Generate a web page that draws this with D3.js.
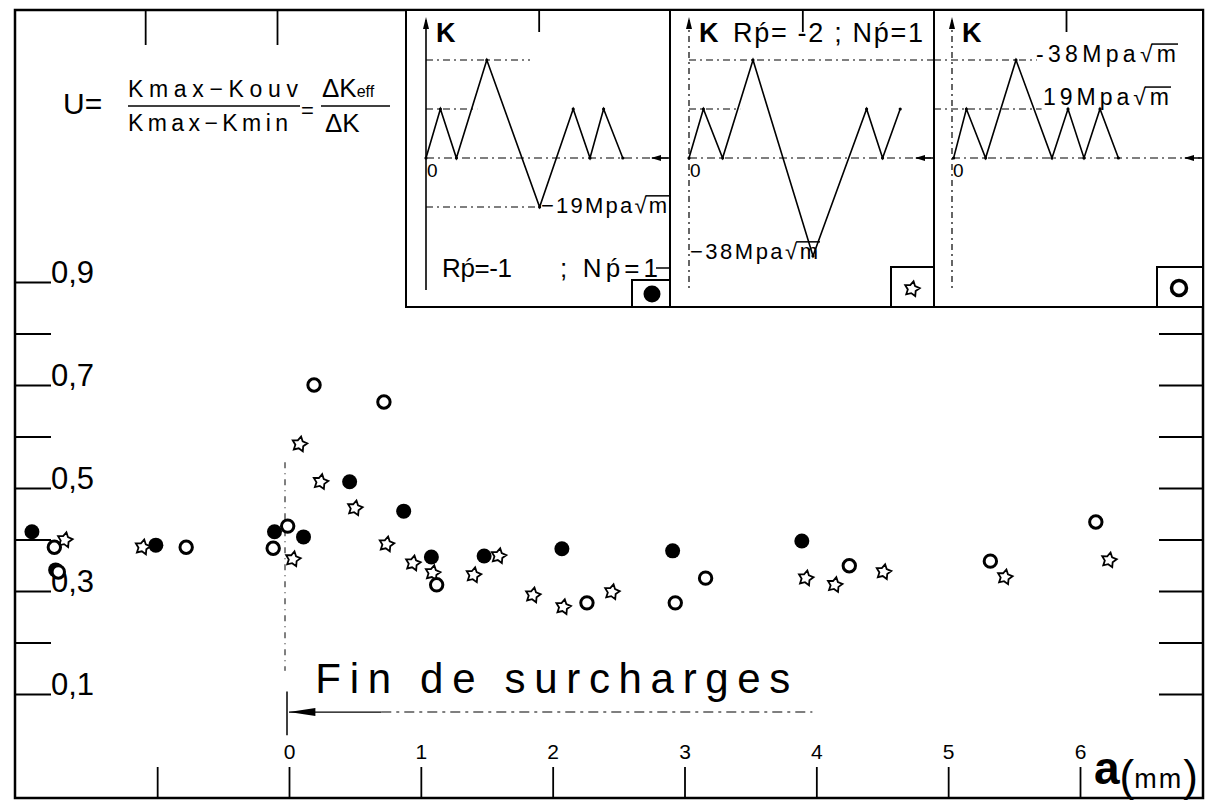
<!DOCTYPE html>
<html lang="fr">
<head>
<meta charset="UTF-8">
<title>U en fonction de a</title>
<script src="https://d3js.org/d3.v7.min.js"></script>
<style>
  body { margin: 0; background: #fff; }
  svg { display: block; }
  text { font-family: "Liberation Sans", "DejaVu Sans", sans-serif; fill: #000; }
</style>
</head>
<body>
<div id="chart"></div>
<script>
// U = Kmax-Kouv / Kmax-Kmin against crack length a (mm), one pair of arrays per sequence
const filledA = [-1.95, -1.77, -1.01, -0.11, 0.11, 0.46, 0.87, 1.08, 1.48, 2.07, 2.91, 3.89];
const filledU = [0.415, 0.341, 0.389, 0.415, 0.405, 0.512, 0.455, 0.366, 0.368, 0.382, 0.378, 0.397];

const starA = [-1.70, -1.11, 0.03, 0.08, 0.24, 0.50, 0.74, 0.94, 1.09, 1.40, 1.59, 1.85, 2.08, 2.45, 3.92, 4.14, 4.51, 5.43, 6.22];
const starU = [0.399, 0.385, 0.362, 0.585, 0.512, 0.461, 0.391, 0.354, 0.335, 0.331, 0.368, 0.292, 0.269, 0.298, 0.325, 0.312, 0.337, 0.327, 0.360];

const openA = [-1.78, -1.75, -0.78, -0.01, -0.12, 0.19, 0.72, 1.12, 2.26, 2.93, 3.16, 4.25, 5.32, 6.12];
const openU = [0.385, 0.337, 0.385, 0.426, 0.383, 0.700, 0.667, 0.312, 0.277, 0.277, 0.325, 0.349, 0.358, 0.434];

const xTicks = [-1, 0, 1, 2, 3, 4, 5, 6];
const yTicks = [0.1, 0.2, 0.3, 0.4, 0.5, 0.6, 0.7, 0.8, 0.9];
const yLabelled = [0.1, 0.3, 0.5, 0.7, 0.9];

// loading sequences in the insets: time step and K (MPa.sqrt(m))
const wave1T = [0, 0.9, 1.9, 3.8, 7.1, 9.2, 10.25, 11.1, 12.3];
const wave1K = [0, 19, 0, 38, -19, 19, 0, 19, 0];
const wave2T = [0, 0.9, 2.1, 4, 7.75, 11.1, 12.1, 13.2];
const wave2K = [0, 19, 0, 38, -38, 19, 0, 19];
const wave3T = [0.1, 0.9, 2.1, 4, 6.25, 7.25, 8.25, 9.25, 10.4];
const wave3K = [0, 19, 0, 38, 0, 19, 0, 19, 0];

const width = 1213, height = 805;
const frame = {left: 15, top: 10, right: 1203, bottom: 798};

const svg = d3.select("#chart").append("svg")
    .attr("width", width)
    .attr("height", height);

svg.append("rect").attr("width", width).attr("height", height).attr("fill", "#fff");

const x = d3.scaleLinear().domain([0, 6]).range([289, 1080]);
const y = d3.scaleLinear().domain([0.1, 0.9]).range([694, 282]);
const kY = d3.scaleLinear().domain([0, 38]).range([158, 60]);

// frame
svg.append("rect")
    .attr("x", frame.left).attr("y", frame.top)
    .attr("width", frame.right - frame.left).attr("height", frame.bottom - frame.top)
    .attr("fill", "none").attr("stroke", "#000").attr("stroke-width", 2.5);

// ---------- insets ----------
const insetBottom = 307;

function sqrtLabel(g, lx, ly, str, size, len) {
    const t = g.append("text")
        .attr("x", lx).attr("y", ly)
        .attr("font-size", size)
        .attr("textLength", len).attr("lengthAdjust", "spacing")
        .text(str);
    const n = str.length;
    const root = t.node().getExtentOfChar(n - 2);
    const last = t.node().getExtentOfChar(n - 1);
    g.append("line")
        .attr("x1", root.x + root.width - 1).attr("x2", last.x + last.width + 2)
        .attr("y1", ly - size * 0.78).attr("y2", ly - size * 0.78)
        .attr("stroke", "#000").attr("stroke-width", 1.5);
}

function drawInset(o) {
    const g = svg.append("g");
    g.append("rect")
        .attr("x", o.x0).attr("y", frame.top)
        .attr("width", o.x1 - o.x0).attr("height", insetBottom - frame.top)
        .attr("fill", "#fff").attr("stroke", "#000").attr("stroke-width", 2);

    const t = d3.scaleLinear().domain([0, 1]).range([o.axis, o.axis + 16]);

    // reference levels
    o.levels.forEach(([k, from, to]) => {
        g.append("line")
            .attr("x1", from === null ? o.x0 : t(from))
            .attr("x2", to === null ? o.x1 : t(to))
            .attr("y1", kY(k)).attr("y2", kY(k))
            .attr("stroke", "#000").attr("stroke-width", 1.2)
            .attr("stroke-dasharray", "7,4,2,4");
    });

    // zero line and arrow
    g.append("line")
        .attr("x1", o.axis).attr("x2", o.x1)
        .attr("y1", kY(0)).attr("y2", kY(0))
        .attr("stroke", "#000").attr("stroke-width", 1.2)
        .attr("stroke-dasharray", "8,4,2,4");
    g.append("line")
        .attr("x1", o.x1 - 18).attr("x2", o.x1)
        .attr("y1", kY(0)).attr("y2", kY(0))
        .attr("stroke", "#000").attr("stroke-width", 1.5);
    g.append("path")
        .attr("d", `M${o.x1 - 19},${kY(0)}L${o.x1 - 9},${kY(0) - 3}L${o.x1 - 9},${kY(0) + 3}Z`)
        .attr("fill", "#000");

    // K axis
    g.append("line")
        .attr("x1", o.axis).attr("x2", o.axis)
        .attr("y1", 20).attr("y2", 290)
        .attr("stroke", "#000").attr("stroke-width", o.axisDash ? 1.2 : 1.6)
        .attr("stroke-dasharray", o.axisDash ? "6,4,2,4" : null);
    g.append("path")
        .attr("d", `M${o.axis},${17}L${o.axis - 3},${29}L${o.axis + 3},${29}Z`)
        .attr("fill", "#000");

    // wave
    const line = d3.line().x((d, i) => t(o.t[i])).y(d => kY(d));
    g.append("path")
        .attr("d", line(o.k))
        .attr("fill", "none").attr("stroke", "#000").attr("stroke-width", 1.6);
    g.selectAll("circle.v").data(o.k).enter().append("circle")
        .attr("cx", (d, i) => t(o.t[i])).attr("cy", d => kY(d)).attr("r", 1.6);

    g.append("text").attr("x", o.axis + 10).attr("y", 42)
        .attr("font-size", 27).attr("font-weight", 600).text("K");
    g.append("text").attr("x", o.axis + 1).attr("y", 177)
        .attr("font-size", 19).text("0");

    // legend corner box
    g.append("rect")
        .attr("x", o.box[0]).attr("y", o.box[1])
        .attr("width", o.x1 - o.box[0]).attr("height", insetBottom - o.box[1])
        .attr("fill", "#fff").attr("stroke", "#000").attr("stroke-width", 2);
    return g;
}

const g1 = drawInset({
    x0: 406, x1: 670, axis: 426, t: wave1T, k: wave1K, axisDash: false,
    levels: [[38, 0, 6.5], [19, 0, 3.2], [-19, 0, 7.1]],
    box: [632, 280]
});
sqrtLabel(g1, 541, 213, "−19Mpa√m", 22, 126);
g1.append("text").attr("x", 442).attr("y", 277).attr("font-size", 26)
    .attr("textLength", 70).attr("lengthAdjust", "spacing").text("Rṕ=-1");
g1.append("text").attr("x", 560).attr("y", 277).attr("font-size", 26)
    .attr("textLength", 98).attr("lengthAdjust", "spacing").text(";  Nṕ=1");
g1.append("line").attr("x1", 656).attr("x2", 670).attr("y1", 268).attr("y2", 268)
    .attr("stroke", "#000").attr("stroke-width", 1.5);
g1.append("circle").attr("cx", 652).attr("cy", 294).attr("r", 8.5).attr("fill", "#000");

const g2 = drawInset({
    x0: 670, x1: 934, axis: 689, t: wave2T, k: wave2K, axisDash: true,
    levels: [[38, 0, null], [19, 0, 3.2]],
    box: [891, 267]
});
g2.append("text").attr("x", 733).attr("y", 42).attr("font-size", 27)
    .attr("textLength", 190).attr("lengthAdjust", "spacing").text("Rṕ= -2 ;  Nṕ=1");
sqrtLabel(g2, 690, 259, "−38Mpa√m", 22, 128);

const g3 = drawInset({
    x0: 934, x1: 1203, axis: 952, t: wave3T, k: wave3K, axisDash: true,
    levels: [[38, null, 5.3], [19, null, 5.6]],
    box: [1157, 267]
});
sqrtLabel(g3, 1036, 62, "-38Mpa√m", 23, 140);
sqrtLabel(g3, 1043, 105, "19Mpa√m", 23, 126);

// ---------- axes ----------
const bottomAxis = svg.append("g")
    .attr("transform", `translate(0,${frame.bottom})`)
    .call(d3.axisTop(x).tickValues(xTicks).tickSize(31).tickPadding(8)
        .tickFormat(d => d < 0 ? "" : d));
bottomAxis.select(".domain").remove();
bottomAxis.selectAll("line").attr("stroke-width", 1.8);
bottomAxis.selectAll("text").attr("font-size", 21)
    .attr("font-family", "'Liberation Sans Narrow', 'DejaVu Sans Condensed', sans-serif");

const topAxisA = svg.append("g")
    .attr("transform", `translate(-12,${frame.top})`)
    .call(d3.axisBottom(x).tickValues([-1, 0]).tickSize(35).tickFormat(""));
const topAxisB = svg.append("g")
    .attr("transform", `translate(-14,${frame.top})`)
    .call(d3.axisBottom(x).tickValues([2, 4, 6]).tickSize(22).tickFormat(""));
[topAxisA, topAxisB].forEach(a => {
    a.select(".domain").remove();
    a.selectAll("line").attr("stroke-width", 1.8);
});

const fmt = d3.format(".1f");
const leftAxis = svg.append("g")
    .attr("transform", `translate(${frame.left},0)`)
    .call(d3.axisRight(y).tickValues(yTicks).tickSize(36).tickPadding(0)
        .tickFormat(d => yLabelled.includes(d) ? fmt(d).replace(".", ",") : ""));
leftAxis.select(".domain").remove();
leftAxis.selectAll("line").attr("stroke-width", 1.8);
leftAxis.selectAll("text").attr("font-size", 31).attr("dy", "0")
    .attr("font-family", "'DejaVu Sans', sans-serif").attr("font-weight", 300);

const rightAxis = svg.append("g")
    .attr("transform", `translate(${frame.right},0)`)
    .call(d3.axisLeft(y).tickValues(yTicks.filter(v => v < 0.85)).tickSize(44).tickFormat(""));
rightAxis.select(".domain").remove();
rightAxis.selectAll("line").attr("stroke-width", 1.8);

// axis title a(mm)
const aTitle = svg.append("text").attr("x", 1094).attr("y", 784);
aTitle.append("tspan").attr("font-size", 46).attr("font-weight", "bold").text("a");
aTitle.append("tspan").attr("font-size", 44).attr("dy", 7).attr("font-weight", 300).text("(");
aTitle.append("tspan").attr("font-size", 27).attr("dy", -3).attr("letter-spacing", 2).text("mm");
aTitle.append("tspan").attr("font-size", 44).attr("dy", 3).attr("font-weight", 300).text(")");

// ---------- end of overloads marker ----------
svg.append("line")
    .attr("x1", x(0) - 4).attr("x2", x(0) - 4)
    .attr("y1", y(0.55)).attr("y2", y(0.145))
    .attr("stroke", "#000").attr("stroke-width", 1).attr("stroke-dasharray", "6,5,1,5");
svg.append("line")
    .attr("x1", x(0) - 2).attr("x2", x(0) - 2)
    .attr("y1", y(0.105)).attr("y2", y(0.02))
    .attr("stroke", "#000").attr("stroke-width", 1.5);
svg.append("line")
    .attr("x1", x(0)).attr("x2", x(0.7))
    .attr("y1", y(0.065)).attr("y2", y(0.065))
    .attr("stroke", "#000").attr("stroke-width", 1.3);
svg.append("line")
    .attr("x1", x(0.7)).attr("x2", x(3.97))
    .attr("y1", y(0.065)).attr("y2", y(0.065))
    .attr("stroke", "#000").attr("stroke-width", 1.1).attr("stroke-dasharray", "10,5,3,5");
svg.append("path")
    .attr("d", `M${x(0)},${y(0.065)}L${x(0.2)},${y(0.065) - 4}L${x(0.2)},${y(0.065) + 4}Z`)
    .attr("fill", "#000");
svg.append("text")
    .attr("x", x(0.2)).attr("y", y(0.102))
    .attr("font-size", 42).attr("font-family", "'Open Sans', 'DejaVu Sans', sans-serif")
    .attr("font-weight", 300)
    .attr("textLength", 475).attr("lengthAdjust", "spacing")
    .text("Fin de surcharges");

// ---------- formula ----------
const fg = svg.append("g");
fg.append("text").attr("x", 63).attr("y", 114).attr("font-size", 30).text("U=");
fg.append("text").attr("x", 128).attr("y", 97).attr("font-size", 23)
    .attr("textLength", 170).attr("lengthAdjust", "spacing").text("Kmax−Kouv");
fg.append("text").attr("x", 128).attr("y", 131).attr("font-size", 23)
    .attr("textLength", 160).attr("lengthAdjust", "spacing").text("Kmax−Kmin");
fg.append("line").attr("x1", 128).attr("x2", 300).attr("y1", 106).attr("y2", 106)
    .attr("stroke", "#000").attr("stroke-width", 1.5);
fg.append("text").attr("x", 301).attr("y", 118).attr("font-size", 22).text("=");
const dk = fg.append("text").attr("x", 322).attr("y", 97).attr("font-size", 26);
dk.append("tspan").text("ΔK");
dk.append("tspan").attr("font-size", 16).text("eff");
fg.append("line").attr("x1", 321).attr("x2", 390).attr("y1", 106).attr("y2", 106)
    .attr("stroke", "#000").attr("stroke-width", 1.5);
fg.append("text").attr("x", 325).attr("y", 132).attr("font-size", 26).text("ΔK");

// ---------- points ----------
const starPath = d3.lineRadial().curve(d3.curveLinearClosed)(
    d3.range(10).map(i => [i * Math.PI / 5 + 0.2, i % 2 ? 4.2 : 7.8]));
const marks = svg.append("g");

marks.selectAll("path.star").data(starA).enter().append("path")
    .attr("class", "star")
    .attr("transform", (d, i) => `translate(${x(d)},${y(starU[i])})`)
    .attr("d", starPath)
    .attr("fill", "#fff").attr("stroke", "#000").attr("stroke-width", 1.8);

marks.selectAll("circle.filled").data(filledA).enter().append("circle")
    .attr("class", "filled")
    .attr("cx", d => x(d)).attr("cy", (d, i) => y(filledU[i]))
    .attr("r", 7.5)
    .attr("fill", "#000");

marks.selectAll("circle.open").data(openA).enter().append("circle")
    .attr("class", "open")
    .attr("cx", d => x(d)).attr("cy", (d, i) => y(openU[i]))
    .attr("r", 6.2)
    .attr("fill", "#fff").attr("stroke", "#000").attr("stroke-width", 3);

// legend marks in the inset corners
g2.append("path").attr("transform", "translate(912,289)").attr("d", starPath)
    .attr("fill", "#fff").attr("stroke", "#000").attr("stroke-width", 1.8);
g3.append("circle").attr("cx", 1179).attr("cy", 288).attr("r", 7.5)
    .attr("fill", "#fff").attr("stroke", "#000").attr("stroke-width", 3.5);
</script>
</body>
</html>
